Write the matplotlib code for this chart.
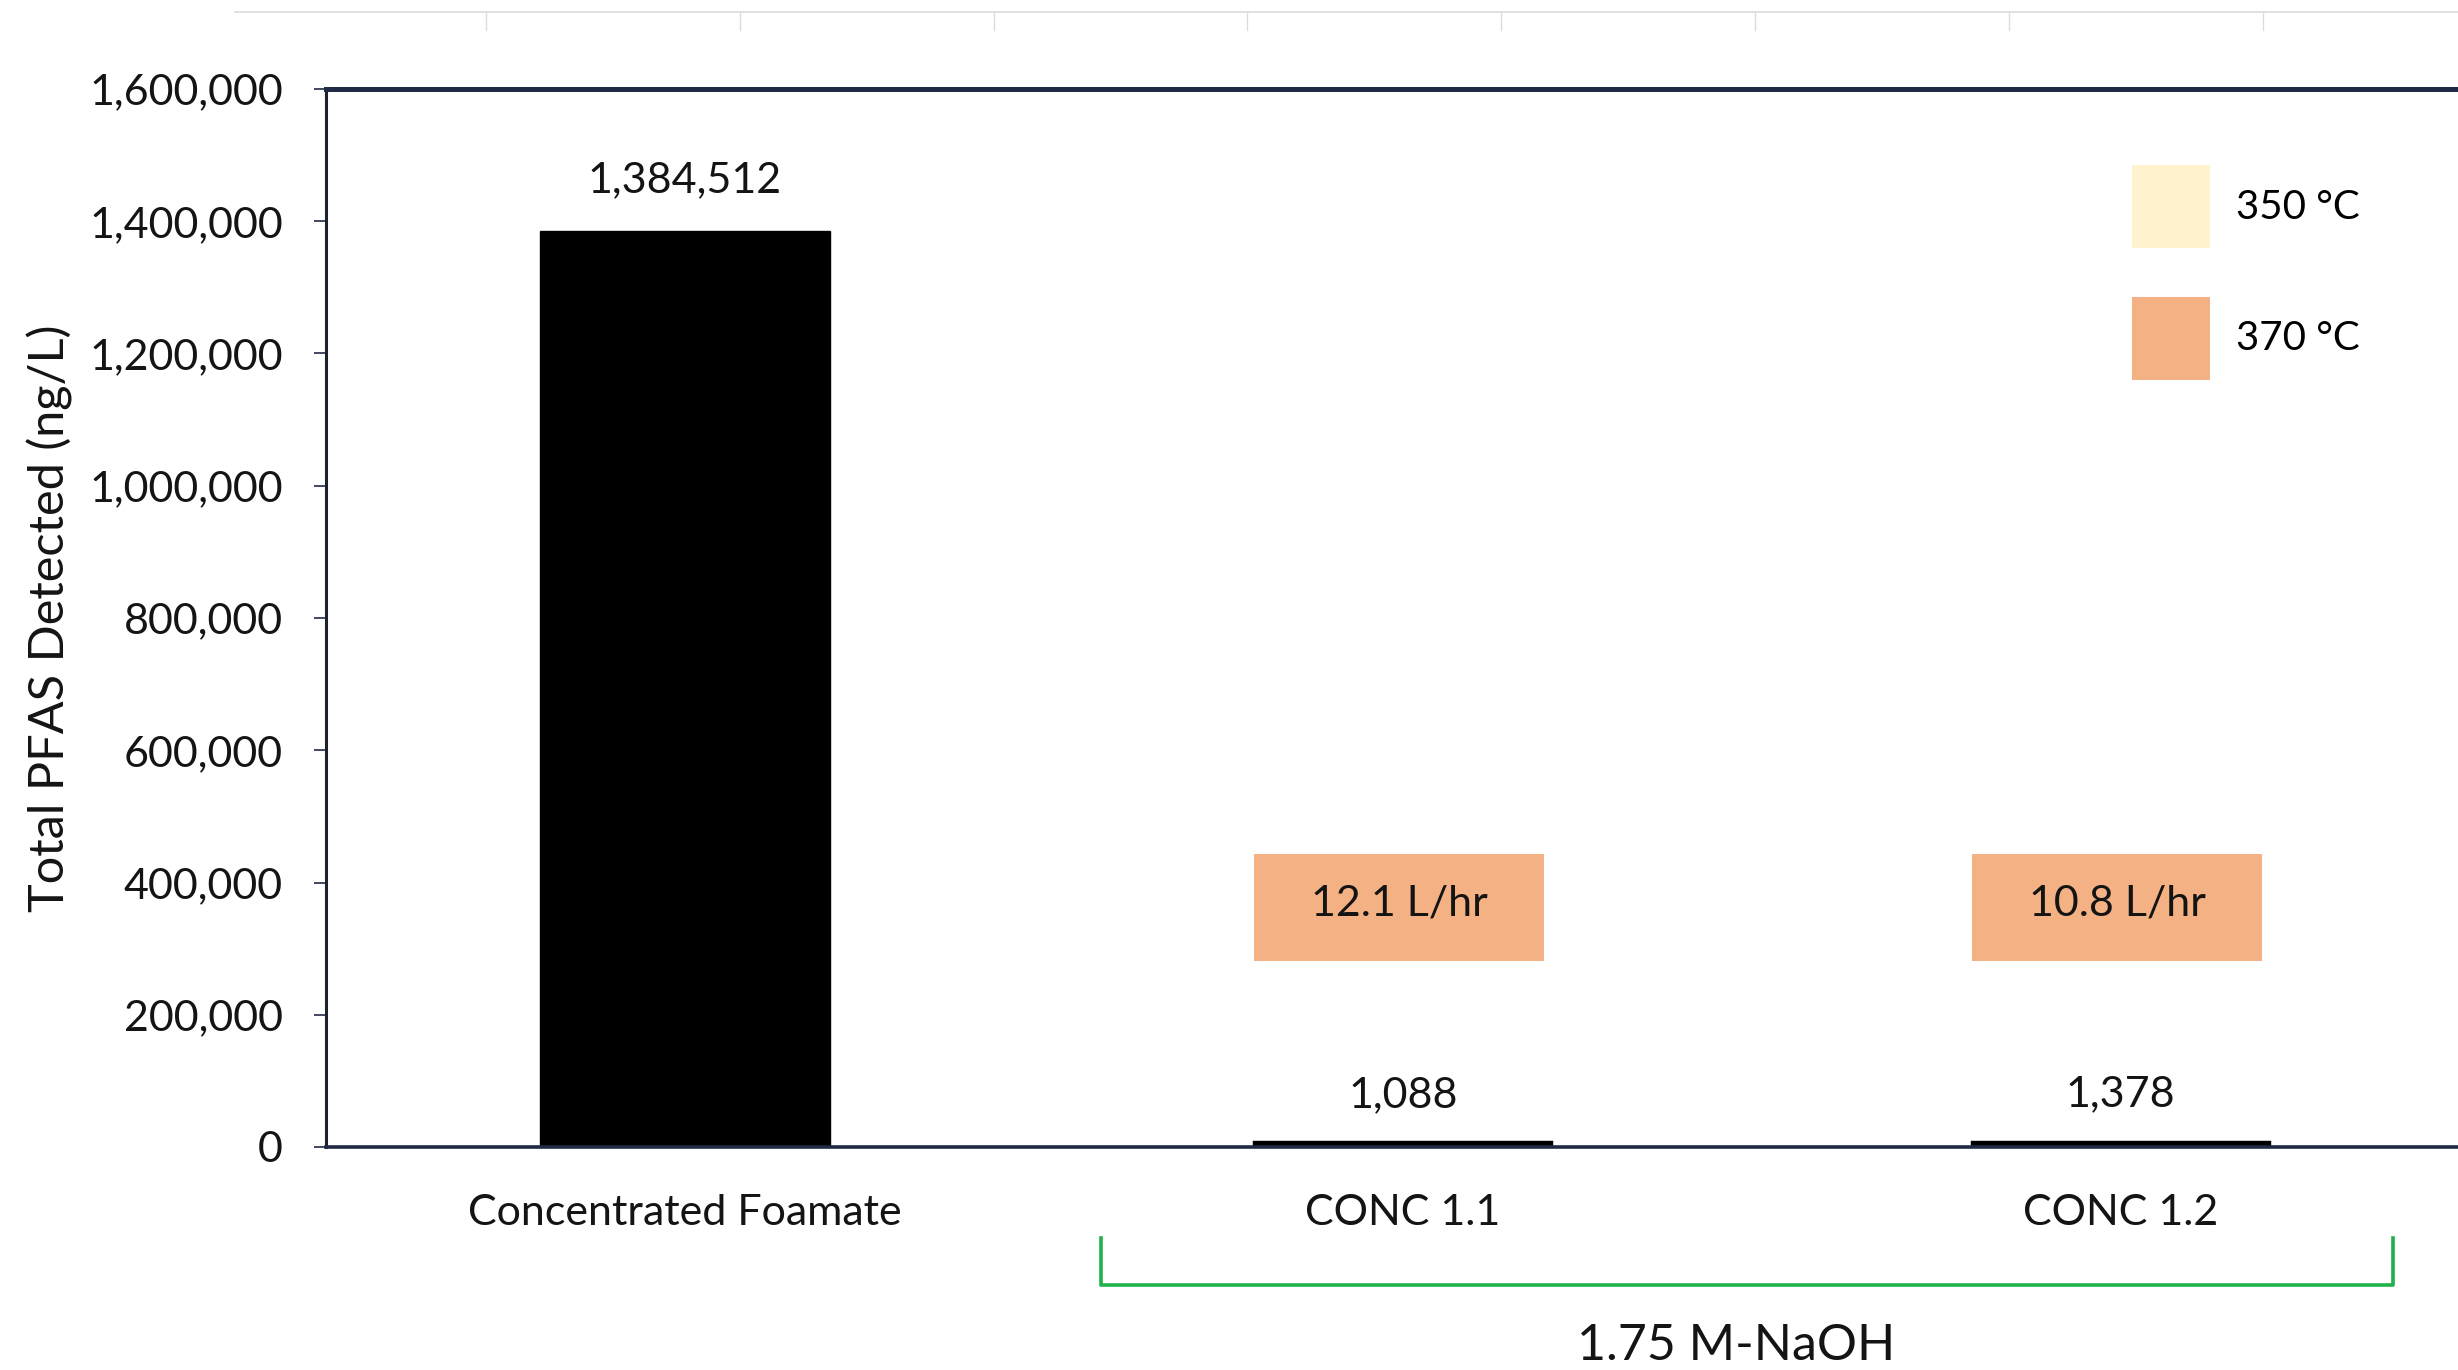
import matplotlib
matplotlib.use("Agg")
import matplotlib.pyplot as plt  # noqa: E402
from matplotlib.lines import Line2D  # noqa: E402
from matplotlib.patches import Patch, Rectangle  # noqa: E402
from matplotlib.ticker import FuncFormatter, MultipleLocator  # noqa: E402
import numpy as np  # noqa: E402

plt.rcParams["font.family"] = ["Lato", "DejaVu Sans"]

# Total PFAS per sample (ng/L)
samples = ["Concentrated Foamate", "CONC 1.1", "CONC 1.2"]
total_pfas = [1384512, 1088, 1378]
# flow rate notes, drawn in the colour of the run temperature
flow_labels = [None, "12.1 L/hr", "10.8 L/hr"]
flow_temps = [None, "370 °C", "370 °C"]
temp_labels = ["350 °C", "370 °C"]
temp_colors = ["#FFF2CC", "#F4B183"]
group_label = "1.75 M-NaOH"

TEXT = "#141414"
NAVY = "#1f2a44"
FS = 31

fig = plt.figure(figsize=(24.58, 13.70), dpi=100)
ax = fig.add_axes([326 / 2458, 1 - 1147 / 1370, 1 - 326 / 2458, (1147 - 89) / 1370])

x = np.arange(len(samples))
bar_w = 0.404
# the tiny bars only show as a thick outline, as in the spreadsheet chart
ax.bar(x, total_pfas, width=bar_w, color="black", edgecolor="black",
       linewidth=[1, 7.5, 7.5], zorder=3)

for xi, v in zip(x, total_pfas):
    ax.annotate("{:,}".format(v), (xi, v), xytext=(0, 37),
                textcoords="offset points", ha="center", va="center",
                fontsize=FS, color=TEXT)

# flow-rate boxes floating above the treated samples
temp_color = dict(zip(temp_labels, temp_colors))
for xi, lab, t in zip(x, flow_labels, flow_temps):
    if lab is None:
        continue
    ax.add_patch(Rectangle((xi - bar_w / 2 - 0.005, 281000), bar_w, 162000,
                           facecolor=temp_color[t], edgecolor="none", zorder=2))
    ax.text(xi - 0.005, 368000, lab, ha="center", va="center", fontsize=FS,
            color=TEXT, zorder=4)

ax.set_xlim(-0.5, 2.47)
ax.set_ylim(0, 1600000)
ax.yaxis.set_major_locator(MultipleLocator(200000))
ax.yaxis.set_major_formatter(FuncFormatter(lambda v, _: "{:,.0f}".format(v)))
ax.set_xticks(x)
ax.set_xticklabels(samples, fontsize=31)
ax.tick_params(axis="y", length=9, width=1.2, color=NAVY, pad=22,
               labelsize=FS, labelcolor=TEXT)
ax.tick_params(axis="x", length=0, pad=34, labelcolor=TEXT)

ax.set_ylabel("Total PFAS Detected (ng/L)", fontsize=35, color=TEXT,
              labelpad=12)

ax.spines["right"].set_visible(False)
ax.spines["top"].set_color(NAVY)
ax.spines["top"].set_linewidth(3.6)
ax.spines["bottom"].set_color(NAVY)
ax.spines["bottom"].set_linewidth(2.6)
ax.spines["left"].set_color("#1c2230")
ax.spines["left"].set_linewidth(2.2)
ax.spines["bottom"].set_zorder(5)

# temperature legend
handles = [Patch(facecolor=c, edgecolor="none") for c in temp_colors]
ax.legend(handles, temp_labels, loc="upper left",
          bbox_to_anchor=(2132 / 2458, 1 - 165 / 1370),
          bbox_transform=fig.transFigure, frameon=False, fontsize=29,
          handlelength=1.93, handleheight=2.8, handletextpad=0.65,
          labelspacing=1.2, borderpad=0, borderaxespad=0)

# bracket grouping the NaOH runs
tr = ax.get_xaxis_transform()
bx0, bx1 = 0.58, 2.38
ax.plot([bx0, bx0, bx1, bx1], [-0.086, -0.130, -0.130, -0.086],
        color="#1fb14a", lw=2.6, transform=tr, clip_on=False)
ax.text((bx0 + bx1) / 2 - 0.015, -0.188, group_label, transform=tr,
        ha="center", va="center", fontsize=36, color=TEXT)

# faint sheet cell lines along the top edge
grid_c = "#dcdcdc"
fig.add_artist(Line2D([235 / 2458, 1], [1 - 12 / 1370] * 2, color=grid_c,
                      lw=1.2, transform=fig.transFigure))
for px in np.arange(486, 2458, 253.8):
    fig.add_artist(Line2D([px / 2458] * 2, [1 - 12 / 1370, 1 - 30 / 1370],
                          color=grid_c, lw=1.0, transform=fig.transFigure))

fig.savefig("out.png", dpi=100, facecolor="white")
